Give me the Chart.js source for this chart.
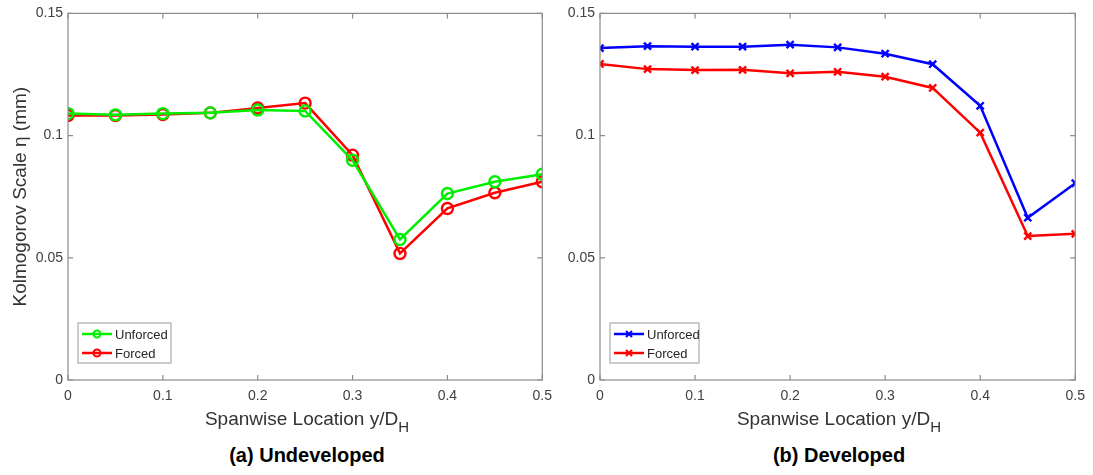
<!DOCTYPE html>
<html>
<head>
<meta charset="utf-8">
<script src="https://cdn.jsdelivr.net/npm/chart.js@4.4.0/dist/chart.umd.min.js"></script>
<style>
    body { margin: 0; background: #fff; width: 1093px; height: 475px; position: relative; overflow: hidden;
           font-family: "Liberation Sans", Arial, sans-serif; }
    canvas { position: absolute; top: 0; }
    .xtitle { position: absolute; top: 408px; font-size: 19px; color: #333; text-align: center; width: 400px; }
    .xtitle sub { font-size: 15px; vertical-align: -7px; }
    .caption { position: absolute; top: 444px; font-size: 20px; font-weight: bold; color: #000; text-align: center; width: 400px; }
</style>
</head>
<body>
<canvas id="undevChart" width="560" height="410" style="left:0"></canvas>
<canvas id="devChart" width="561" height="410" style="left:532px"></canvas>
<div class="xtitle" style="left:107px">Spanwise Location y/D<sub>H</sub></div>
<div class="xtitle" style="left:639px">Spanwise Location y/D<sub>H</sub></div>
<div class="caption" style="left:107px">(a) Undeveloped</div>
<div class="caption" style="left:639px">(b) Developed</div>
<script>
const xLoc = [0, 0.05, 0.1, 0.15, 0.2, 0.25, 0.3, 0.35, 0.4, 0.45, 0.5];
const xTicks = [0, 0.1, 0.2, 0.3, 0.4, 0.5];
const yTicks = [0, 0.05, 0.1, 0.15];

// (a) undeveloped
const undevUnforced = [0.109, 0.1085, 0.109, 0.1093, 0.1105, 0.1101, 0.0899, 0.0575, 0.0763, 0.0811, 0.0842];
const undevForced = [0.1082, 0.1082, 0.1086, 0.1093, 0.1113, 0.1133, 0.092, 0.0518, 0.0702, 0.0766, 0.0811];

// (b) developed
const devUnforced = [0.1358, 0.1366, 0.1364, 0.1364, 0.1372, 0.1361, 0.1335, 0.1292, 0.1122, 0.0664, 0.0805];
const devForced = [0.1293, 0.1272, 0.1268, 0.1269, 0.1255, 0.1261, 0.1241, 0.1195, 0.1012, 0.0589, 0.0598];

const tickColor = "#404040";
const fontFamily = "'Liberation Sans', Arial, sans-serif";

function pairs(ys) {
    return xLoc.map((x, i) => ({ x: x, y: ys[i] }));
}

// box frame + inward tick marks, matlab style
const boxPlugin = {
    id: "box",
    afterDraw(chart) {
        const ctx = chart.ctx;
        const a = chart.chartArea;
        const xs = chart.scales.x, ys = chart.scales.y;
        ctx.save();
        ctx.strokeStyle = "#8c8c8c";
        ctx.lineWidth = 1.2;
        ctx.strokeRect(a.left, a.top, a.right - a.left, a.bottom - a.top);
        ctx.beginPath();
        xTicks.forEach(v => {
            const p = xs.getPixelForValue(v);
            ctx.moveTo(p, a.bottom); ctx.lineTo(p, a.bottom - 5);
            ctx.moveTo(p, a.top); ctx.lineTo(p, a.top + 5);
        });
        yTicks.forEach(v => {
            const p = ys.getPixelForValue(v);
            ctx.moveTo(a.left, p); ctx.lineTo(a.left + 5, p);
            ctx.moveTo(a.right, p); ctx.lineTo(a.right - 5, p);
        });
        ctx.stroke();
        ctx.restore();
    }
};

// legend box in lower left corner of the plot
const legendBox = {
    id: "legendBox",
    afterDraw(chart) {
        const ctx = chart.ctx;
        const a = chart.chartArea;
        const x0 = a.left + 10, y0 = a.bottom - 57;
        const w = chart.canvas.id === "undevChart" ? 93 : 89, h = 40;
        ctx.save();
        ctx.fillStyle = "#fff";
        ctx.fillRect(x0, y0, w, h);
        ctx.strokeStyle = "#9a9a9a";
        ctx.lineWidth = 1;
        ctx.strokeRect(x0, y0, w, h);
        chart.data.datasets.forEach((ds, i) => {
            const cy = y0 + 11 + i * 19;
            ctx.strokeStyle = ds.borderColor;
            ctx.lineWidth = 2.5;
            ctx.beginPath();
            ctx.moveTo(x0 + 4, cy); ctx.lineTo(x0 + 34, cy);
            ctx.stroke();
            ctx.lineWidth = 2;
            ctx.beginPath();
            if (ds.pointStyle === "circle") {
                ctx.arc(x0 + 19, cy, 3.5, 0, Math.PI * 2);
            } else {
                ctx.moveTo(x0 + 16, cy - 3); ctx.lineTo(x0 + 22, cy + 3);
                ctx.moveTo(x0 + 16, cy + 3); ctx.lineTo(x0 + 22, cy - 3);
            }
            ctx.stroke();
            ctx.fillStyle = "#262626";
            ctx.font = "13px " + fontFamily;
            ctx.textBaseline = "middle";
            ctx.fillText(ds.label, x0 + 37, cy + 1);
        });
        ctx.restore();
    }
};

function makeChart(canvasId, unforced, forced, unforcedColor, marker, showYTitle) {
    const ctx = document.getElementById(canvasId).getContext("2d");
    const pointR = marker === "circle" ? 5.5 : 5;
    new Chart(ctx, {
        type: "line",
        data: {
            datasets: [{
                label: "Unforced",
                data: pairs(unforced),
                borderColor: unforcedColor,
                borderWidth: 2.5,
                pointStyle: marker,
                pointRadius: pointR,
                pointBorderWidth: 2.4,
                pointBackgroundColor: "rgba(0,0,0,0)",
                pointBorderColor: unforcedColor,
                tension: 0
            }, {
                label: "Forced",
                data: pairs(forced),
                borderColor: "#ff0000",
                borderWidth: 2.5,
                pointStyle: marker,
                pointRadius: pointR,
                pointBorderWidth: 2.4,
                pointBackgroundColor: "rgba(0,0,0,0)",
                pointBorderColor: "#ff0000",
                tension: 0
            }]
        },
        options: {
            responsive: false,
            animation: false,
            layout: { padding: { left: 0, top: 13, right: 15, bottom: 0 } },
            plugins: {
                legend: { display: false },
                tooltip: { enabled: false }
            },
            scales: {
                x: {
                    type: "linear",
                    min: 0,
                    max: 0.5,
                    grid: { display: false, drawTicks: false },
                    border: { display: false },
                    afterBuildTicks: s => { s.ticks = xTicks.map(v => ({ value: v })); },
                    afterFit: s => { s.height = 30; },
                    ticks: {
                        color: tickColor,
                        padding: 8,
                        maxRotation: 0,
                        font: { size: 14, family: fontFamily },
                        callback: v => String(v)
                    }
                },
                y: {
                    min: 0,
                    max: 0.15,
                    grid: { display: false, drawTicks: false },
                    border: { display: false },
                    afterBuildTicks: s => { s.ticks = yTicks.map(v => ({ value: v })); },
                    afterFit: s => { s.width = 68; },
                    ticks: {
                        color: tickColor,
                        padding: 5,
                        font: { size: 14, family: fontFamily },
                        callback: v => String(v)
                    },
                    title: {
                        display: showYTitle,
                        text: "Kolmogorov Scale η (mm)",
                        color: "#333",
                        padding: { top: 9, bottom: 0 },
                        font: { size: 19, family: fontFamily }
                    }
                }
            }
        },
        plugins: [boxPlugin, legendBox]
    });
}

makeChart("undevChart", undevUnforced, undevForced, "#00ee00", "circle", true);
makeChart("devChart", devUnforced, devForced, "#0000ff", "crossRot", false);
</script>
</body>
</html>
